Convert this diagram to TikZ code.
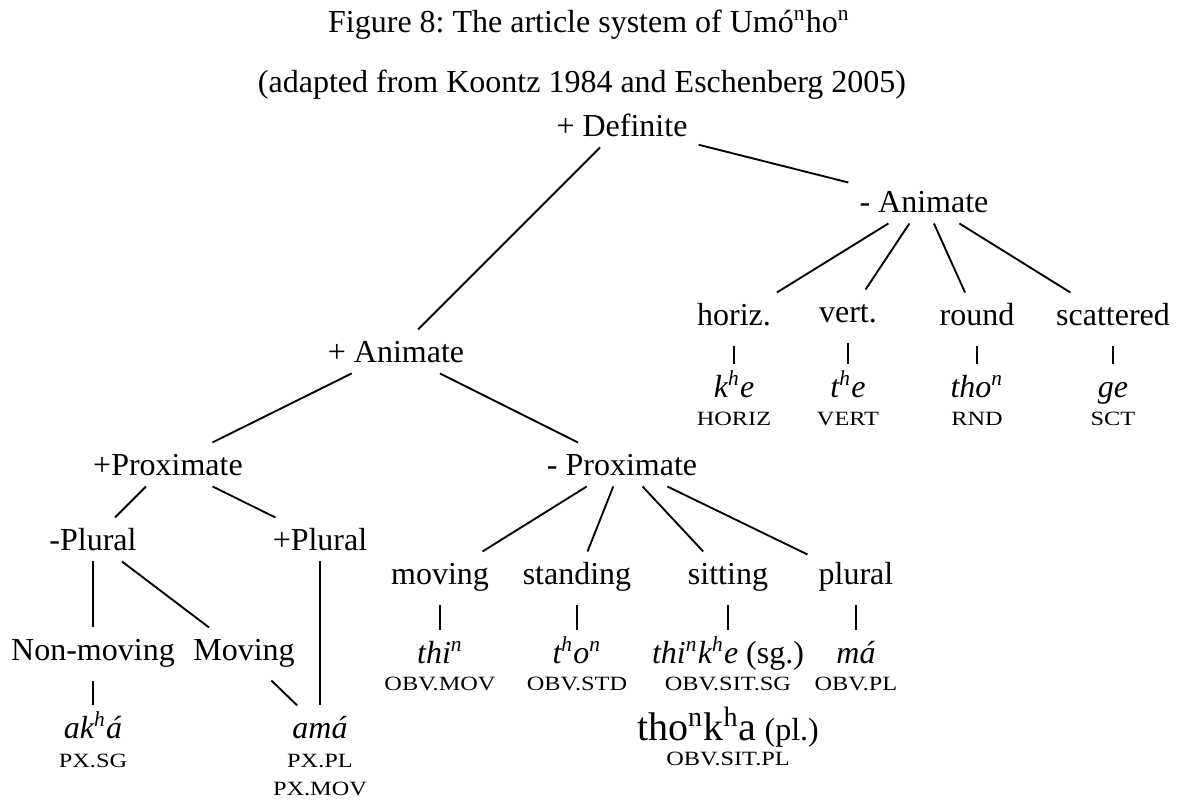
\documentclass[tikz,border=0pt]{standalone}
\usepackage{fontspec}
\setmainfont{Liberation Serif}
% widened capitals stand in for small-capital glosses
\newfontfamily\glossfont[FakeStretch=1.2]{Liberation Serif}
\newcommand{\hsup}[1]{\textsuperscript{#1}}
\frenchspacing
\begin{document}
\begin{tikzpicture}[x=0.375pt,y=-0.375pt,
  every node/.style={inner sep=0pt, font=\fontsize{12}{14.4}\selectfont},
  cat/.style={inner xsep=4pt, inner ysep=0pt, text height=12pt, text depth=4.1pt, anchor=base},
  catg/.style={cat, text depth=7.5pt},
  leaf/.style={cat},
  gloss/.style={anchor=base, font=\glossfont\fontsize{7.6}{9}\selectfont},
  edge/.style={line width=0.7pt}]
\useasboundingbox (0,0) rectangle (1177,799);

% heading
\node[anchor=base] (title) at (589,32) {Figure 8: The article system of Umó\hsup{n}ho\hsup{n}};
\node[anchor=base] (source) at (582,92) {(adapted from Koontz 1984 and Eschenberg 2005)};

% feature nodes
\node[cat] (def) at (622,136) {+ Definite};
\node[cat] (inan) at (924,212) {- Animate};
\node[cat] (anim) at (396,362) {+ Animate};
\node[cat] (prox) at (168,475) {+Proximate};
\node[cat] (obv) at (622,475) {- Proximate};
\node[cat] (sg) at (93,550) {-Plural};
\node[cat] (pl) at (320,550) {+Plural};

% shape classes of inanimates
\node[catg] (hor) at (734,325) {horiz.};
\node[catg] (ver) at (848,322) {vert.};
\node[catg] (rnd) at (977,325) {round};
\node[catg] (sct) at (1113,325) {scattered};

\node[leaf] (khe) at (734,397) {\textit{k\hsup{h}e}};
\node[leaf] (the) at (848,397) {\textit{t\hsup{h}e}};
\node[leaf] (thon) at (977,397) {\textit{tho\hsup{n}}};
\node[leaf] (ge) at (1113,397) {\textit{ge}};
\node[gloss] (khe-g) at (734,425) {HORIZ};
\node[gloss] (the-g) at (848,425) {VERT};
\node[gloss] (thon-g) at (977,425) {RND};
\node[gloss] (ge-g) at (1113,425) {SCT};

% proximate branch
\node[catg] (nonmov) at (93,660) {Non-moving};
\node[catg] (mov) at (244,660) {Moving};
\node[leaf] (akha) at (93,738) {\textit{ak\hsup{h}á}};
\node[leaf] (ama) at (320,738) {\textit{amá}};
\node[gloss] (akha-g) at (93,767) {PX.SG};
\node[gloss] (ama-g1) at (320,767) {PX.PL};
\node[gloss] (ama-g2) at (320,795) {PX.MOV};

% obviative branch
\node[catg] (omov) at (440,584) {moving};
\node[catg] (ostd) at (577,584) {standing};
\node[catg] (osit) at (728,584) {sitting};
\node[catg] (opl) at (856,584) {plural};
\node[leaf] (thin) at (440,663) {\textit{thi\hsup{n}}};
\node[leaf] (thon2) at (577,663) {\textit{t\hsup{h}o\hsup{n}}};
\node[leaf] (thinkhe) at (728,663) {\textit{thi\hsup{n}k\hsup{h}e} (sg.)};
\node[leaf] (ma) at (856,663) {\textit{má}};
\node[gloss] (thin-g) at (440,690) {OBV.MOV};
\node[gloss] (thon2-g) at (577,690) {OBV.STD};
\node[gloss] (thinkhe-g) at (728,690) {OBV.SIT.SG};
\node[gloss] (ma-g) at (856,690) {OBV.PL};
\node[anchor=base] (thonkha) at (728,740) {{\fontsize{15}{18}\selectfont tho\hsup{n}k\hsup{h}a} (pl.)};
\node[gloss] (thonkha-g) at (728,765) {OBV.SIT.PL};

% branches
\draw[edge] (def) -- (anim);
\draw[edge] (def) -- (inan);
\draw[edge] (inan) -- (hor);
\draw[edge] (inan) -- (ver);
\draw[edge] (inan) -- (rnd);
\draw[edge] (inan) -- (sct);
\draw[edge] (hor) -- (khe);
\draw[edge] (ver) -- (the);
\draw[edge] (rnd) -- (thon);
\draw[edge] (sct) -- (ge);
\draw[edge] (anim) -- (prox);
\draw[edge] (anim) -- (obv);
\draw[edge] (prox) -- (sg);
\draw[edge] (prox) -- (pl);
\draw[edge] (sg) -- (nonmov);
\draw[edge] (sg) -- (mov);
\draw[edge] (nonmov) -- (akha);
\draw[edge] (mov) -- (ama);
\draw[edge] (pl) -- (ama);
\draw[edge] (obv) -- (omov);
\draw[edge] (obv) -- (ostd);
\draw[edge] (obv) -- (osit);
\draw[edge] (obv) -- (opl);
\draw[edge] (omov) -- (thin);
\draw[edge] (ostd) -- (thon2);
\draw[edge] (osit) -- (thinkhe);
\draw[edge] (opl) -- (ma);
\end{tikzpicture}
\end{document}
